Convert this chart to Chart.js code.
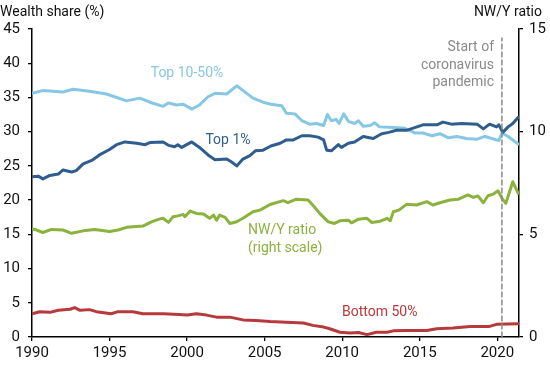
<!DOCTYPE html>
<html>
<head>
<meta charset="utf-8">
<script src="https://cdn.jsdelivr.net/npm/chart.js@4"></script>
<style>
  html, body { margin: 0; padding: 0; background: #fff; }
  #wrap { width: 550px; height: 365px; position: relative; }
</style>
</head>
<body>
<div id="wrap"><canvas id="c" width="550" height="365"></canvas></div>
<script>
// ---- Data ----
const top1050Years = [1990.0, 1990.7, 1992.0, 1992.65, 1993.7, 1994.8, 1996.1, 1996.95, 1997.6, 1998.45, 1998.8, 1999.3, 1999.75, 2000.3, 2000.8, 2001.35, 2001.8, 2002.55, 2003.2, 2003.85, 2004.25, 2004.9, 2005.4, 2006.1, 2006.4, 2006.95, 2007.4, 2007.9, 2008.35, 2008.8, 2009.05, 2009.3, 2009.6, 2009.8, 2010.1, 2010.4, 2010.8, 2011.05, 2011.35, 2011.8, 2012.1, 2012.4, 2013.3, 2014.05, 2014.7, 2015.2, 2015.8, 2016.3, 2016.85, 2017.4, 2018.0, 2018.7, 2019.2, 2019.65, 2020.1, 2020.3, 2020.7, 2021.35];
const top1050Share = [35.6, 36.0, 35.8, 36.2, 35.9, 35.5, 34.5, 34.9, 34.3, 33.7, 34.2, 33.9, 34.0, 33.3, 33.9, 35.1, 35.6, 35.5, 36.7, 35.6, 34.9, 34.3, 34.0, 33.8, 32.7, 32.6, 31.6, 31.1, 31.2, 30.9, 32.5, 31.6, 31.8, 31.2, 32.6, 31.5, 31.2, 31.6, 30.8, 30.9, 31.3, 30.7, 30.6, 30.5, 29.8, 29.8, 29.4, 29.7, 29.1, 29.3, 29.0, 28.9, 29.3, 29.0, 28.7, 29.8, 29.3, 28.2];

const top1Years = [1990.0, 1990.4, 1990.7, 1991.15, 1991.7, 1992.0, 1992.55, 1992.85, 1993.3, 1993.85, 1994.35, 1995.0, 1995.45, 1996.0, 1996.75, 1997.3, 1997.6, 1998.45, 1998.8, 1999.2, 1999.4, 1999.65, 2000.3, 2000.8, 2001.35, 2001.8, 2002.55, 2002.85, 2003.2, 2003.6, 2004.05, 2004.4, 2004.9, 2005.4, 2006.0, 2006.4, 2006.85, 2007.4, 2007.9, 2008.45, 2008.8, 2009.0, 2009.3, 2009.75, 2009.95, 2010.4, 2010.8, 2011.35, 2012.0, 2012.55, 2013.0, 2013.5, 2014.15, 2015.2, 2016.1, 2016.5, 2017.05, 2017.7, 2018.7, 2019.1, 2019.5, 2019.95, 2020.1, 2020.35, 2020.7, 2021.0, 2021.35];
const top1Share = [23.4, 23.5, 23.1, 23.6, 23.8, 24.4, 24.1, 24.3, 25.3, 25.8, 26.6, 27.4, 28.1, 28.5, 28.3, 28.1, 28.4, 28.5, 28.0, 27.8, 28.1, 27.7, 28.5, 27.7, 26.6, 25.9, 26.0, 25.6, 25.0, 26.0, 26.5, 27.2, 27.3, 27.9, 28.3, 28.8, 28.8, 29.4, 29.4, 29.2, 28.8, 27.3, 27.2, 28.1, 27.7, 28.3, 28.5, 29.3, 29.0, 29.7, 29.9, 30.2, 30.2, 31.0, 31.0, 31.4, 31.1, 31.2, 31.1, 30.4, 31.1, 30.7, 31.0, 29.9, 30.7, 31.2, 32.1];

const nwyYears = [1990.0, 1990.3, 1990.7, 1991.25, 1992.0, 1992.55, 1993.3, 1994.05, 1995.0, 1995.55, 1996.1, 1997.15, 1997.7, 1998.15, 1998.45, 1998.8, 1999.1, 1999.4, 1999.75, 1999.85, 2000.2, 2000.6, 2001.05, 2001.45, 2001.7, 2001.9, 2002.1, 2002.45, 2002.75, 2003.2, 2003.6, 2004.25, 2004.7, 2005.35, 2006.2, 2006.5, 2007.05, 2007.8, 2008.1, 2008.55, 2009.1, 2009.5, 2009.85, 2010.4, 2010.6, 2011.05, 2011.6, 2011.9, 2012.45, 2012.9, 2013.1, 2013.3, 2013.65, 2014.15, 2014.8, 2015.45, 2015.85, 2016.3, 2016.95, 2017.5, 2018.1, 2018.45, 2018.75, 2019.1, 2019.4, 2019.75, 2020.05, 2020.3, 2020.55, 2021.0, 2021.35];
const nwyRatio = [5.28, 5.21, 5.09, 5.24, 5.21, 5.05, 5.17, 5.24, 5.14, 5.21, 5.34, 5.40, 5.61, 5.73, 5.78, 5.58, 5.86, 5.90, 5.97, 5.86, 6.13, 6.02, 5.99, 5.78, 5.94, 5.69, 5.94, 5.83, 5.53, 5.61, 5.78, 6.10, 6.18, 6.45, 6.64, 6.54, 6.71, 6.67, 6.43, 6.02, 5.61, 5.53, 5.66, 5.69, 5.56, 5.74, 5.78, 5.58, 5.64, 5.78, 5.66, 6.10, 6.18, 6.46, 6.43, 6.59, 6.43, 6.54, 6.67, 6.71, 6.92, 6.80, 6.87, 6.54, 6.88, 6.96, 7.12, 6.75, 6.51, 7.56, 7.0];

const bottom50Years = [1990.0, 1990.5, 1991.15, 1991.7, 1992.45, 1992.75, 1993.1, 1993.7, 1994.15, 1995.1, 1995.55, 1996.5, 1997.15, 1998.45, 1999.5, 2000.0, 2000.6, 2001.25, 2001.9, 2002.75, 2003.6, 2004.45, 2005.35, 2006.4, 2007.5, 2008.1, 2008.8, 2009.2, 2009.85, 2010.5, 2011.05, 2011.6, 2012.2, 2012.9, 2013.3, 2014.15, 2015.45, 2016.1, 2017.15, 2018.25, 2019.5, 2019.95, 2021.35];
const bottom50Share = [3.4, 3.7, 3.6, 3.9, 4.05, 4.3, 3.9, 4.0, 3.7, 3.4, 3.7, 3.7, 3.4, 3.4, 3.3, 3.2, 3.4, 3.2, 2.9, 2.9, 2.5, 2.4, 2.25, 2.15, 2.05, 1.7, 1.45, 1.2, 0.7, 0.6, 0.65, 0.35, 0.7, 0.7, 0.9, 0.95, 0.95, 1.2, 1.3, 1.55, 1.55, 1.85, 1.95];

const pandemicStart = 2020.3;
const xTickLabels = [1990, 1995, 2000, 2005, 2010, 2015, 2020];
const leftTicks = [0, 5, 10, 15, 20, 25, 30, 35, 40, 45];
const rightTicks = [0, 5, 10, 15];

// ---- Styles ----
const C_TOP1050 = '#85c7e5';
const C_TOP1 = '#2f5e8e';
const C_NWY = '#8cb23e';
const C_BOT = '#b7393b';
const C_GRAY = '#8a8a8a';
const FONT = 'Roboto, "Liberation Sans", sans-serif';

const pts = (xs, ys) => xs.map((x, i) => ({ x: x, y: ys[i] }));

const labelsPlugin = {
  id: 'labels',
  afterDraw(chart) {
    const ctx = chart.ctx;
    ctx.save();
    ctx.font = '14px ' + FONT;
    ctx.textBaseline = 'middle';
    // axis titles
    ctx.fillStyle = '#111';
    ctx.textAlign = 'left';
    ctx.fillText('Wealth share (%)', 0, 12);
    ctx.textAlign = 'right';
    ctx.fillText('NW/Y ratio', 542, 12);
    // pandemic note
    ctx.fillStyle = C_GRAY;
    ctx.textAlign = 'right';
    ctx.fillText('Start of', 494, 47);
    ctx.fillText('coronavirus', 494, 65);
    ctx.fillText('pandemic', 494, 82);
    // series labels
    ctx.textAlign = 'center';
    ctx.fillStyle = C_TOP1050;
    ctx.fillText('Top 10-50%', 187, 73);
    ctx.fillStyle = C_TOP1;
    ctx.fillText('Top 1%', 228, 140);
    ctx.textAlign = 'left';
    ctx.fillStyle = C_NWY;
    ctx.fillText('NW/Y ratio', 248, 230);
    ctx.fillText('(right scale)', 248, 248);
    ctx.fillStyle = C_BOT;
    ctx.fillText('Bottom 50%', 342, 312);
    ctx.restore();
  }
};

const axisCommon = {
  grid: { drawOnChartArea: false, drawTicks: true, tickLength: 4, color: '#000', lineWidth: 1.3 },
  border: { display: true, color: '#000', width: 1.5 },
};

new Chart(document.getElementById('c'), {
  type: 'line',
  data: {
    datasets: [
      { label: 'Pandemic', data: [{ x: pandemicStart, y: 0 }, { x: pandemicStart, y: 43.7 }], yAxisID: 'y',
        borderColor: C_GRAY, borderWidth: 1.5, borderDash: [5, 3], pointRadius: 0 },
      { label: 'Top 1%', data: pts(top1Years, top1Share), yAxisID: 'y', borderColor: C_TOP1, borderWidth: 3, pointRadius: 0 },
      { label: 'Top 10-50%', data: pts(top1050Years, top1050Share), yAxisID: 'y', borderColor: C_TOP1050, borderWidth: 3, pointRadius: 0 },
      { label: 'NW/Y ratio', data: pts(nwyYears, nwyRatio), yAxisID: 'y2', borderColor: C_NWY, borderWidth: 3, pointRadius: 0 },
      { label: 'Bottom 50%', data: pts(bottom50Years, bottom50Share), yAxisID: 'y', borderColor: C_BOT, borderWidth: 3, pointRadius: 0 }
    ]
  },
  options: {
    responsive: false,
    animation: false,
    events: [],
    layout: { padding: { top: 29, left: 0, right: 0, bottom: 0 } },
    plugins: { legend: { display: false }, tooltip: { enabled: false }, title: { display: false } },
    elements: { line: { tension: 0, borderCapStyle: 'round', borderJoinStyle: 'round' } },
    scales: {
      x: Object.assign({}, axisCommon, {
        type: 'linear', min: 1990, max: 2021.4,
        afterBuildTicks: (s) => { s.ticks = xTickLabels.map(v => ({ value: v })); },
        afterFit: (s) => { s.height = 28; },
        ticks: { color: '#111', font: { family: FONT, size: 15 }, padding: 3, maxRotation: 0,
                 callback: (v) => String(v) }
      }),
      y: Object.assign({}, axisCommon, {
        position: 'left', min: 0, max: 45,
        afterBuildTicks: (s) => { s.ticks = leftTicks.map(v => ({ value: v })); },
        afterFit: (s) => { s.width = 32; },
        ticks: { color: '#111', font: { family: FONT, size: 15 }, padding: 8, callback: (v) => String(v) }
      }),
      y2: Object.assign({}, axisCommon, {
        position: 'right', min: 0, max: 15,
        afterBuildTicks: (s) => { s.ticks = rightTicks.map(v => ({ value: v })); },
        afterFit: (s) => { s.width = 31; },
        ticks: { color: '#111', font: { family: FONT, size: 15 }, padding: 6, callback: (v) => String(v) }
      })
    }
  },
  plugins: [labelsPlugin]
});
</script>
</body>
</html>
